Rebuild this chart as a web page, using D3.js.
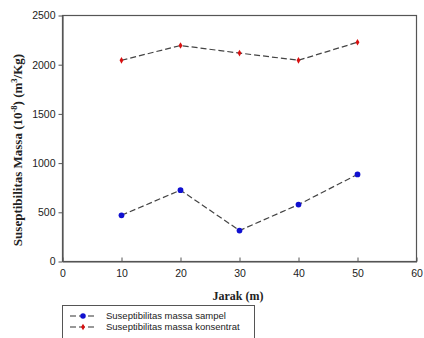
<!DOCTYPE html>
<html><head><meta charset="utf-8">
<script src="https://cdn.jsdelivr.net/npm/d3@7"></script>
<style>body{margin:0;background:#fff}svg{display:block}</style>
</head><body>
<svg id="c" width="424" height="338"></svg>
<script>
const jarak = [10, 20, 30, 40, 50];
const sampel = [470, 725, 315, 578, 885];
const konsentrat = [2045, 2195, 2118, 2045, 2228];
const xTicks = [0, 10, 20, 30, 40, 50, 60];
const yTicks = [0, 500, 1000, 1500, 2000, 2500];
const seriesNames = ["Suseptibilitas massa sampel", "Suseptibilitas massa konsentrat"];

const svg = d3.select("#c");
const L = 62.5, R = 416.5, T = 15.5, B = 261.5;
const x = d3.scaleLinear().domain([0, 60]).range([L, R]);
const y = d3.scaleLinear().domain([0, 2500]).range([B, T]);

svg.append("rect").attr("x", L).attr("y", T).attr("width", R - L).attr("height", B - T)
  .attr("fill", "none").attr("stroke", "#555").attr("stroke-width", 1.2);

const fmt = d3.format("d");
const xa = svg.append("g").attr("transform", `translate(0,${B})`)
  .call(d3.axisBottom(x).tickValues(xTicks).tickFormat(fmt).tickSizeInner(-4).tickSizeOuter(0).tickPadding(8));
const ya = svg.append("g").attr("transform", `translate(${L},0)`)
  .call(d3.axisLeft(y).tickValues(yTicks).tickFormat(fmt).tickSizeInner(4).tickSizeOuter(0).tickPadding(3));
[xa, ya].forEach(g => {
  g.select(".domain").attr("stroke", "#555").attr("stroke-width", 1.2);
  g.selectAll(".tick line").attr("stroke", "#555");
  g.selectAll("text").attr("font-family", "Arial, 'Liberation Sans', sans-serif").attr("font-size", 10.5).attr("fill", "#222");
});

svg.append("text").attr("x", 238).attr("y", 300).attr("text-anchor", "middle")
  .attr("font-family", "'Times New Roman', 'Liberation Serif', serif").attr("font-weight", "bold")
  .attr("font-size", 12).attr("fill", "#222").text("Jarak (m)");
const yt = svg.append("text").attr("transform", `translate(22,150) rotate(-90)`)
  .attr("text-anchor", "middle")
  .attr("font-family", "'Times New Roman', 'Liberation Serif', serif").attr("font-weight", "bold")
  .attr("font-size", 13).attr("fill", "#222");
yt.append("tspan").text("Suseptibilitas Massa (10");
yt.append("tspan").attr("dy", -5).attr("font-size", 8.5).text("-8");
yt.append("tspan").attr("dy", 5).text(") (m");
yt.append("tspan").attr("dy", -5).attr("font-size", 8.5).text("3");
yt.append("tspan").attr("dy", 5).text("/Kg)");

const line = d3.line().x((d, i) => x(jarak[i])).y(d => y(d));
const colors = ["#1010d0", "#d81010"];
[sampel, konsentrat].forEach((vals, si) => {
  svg.append("path").datum(vals).attr("d", line).attr("fill", "none")
    .attr("stroke", "#444").attr("stroke-width", 1.2).attr("stroke-dasharray", "6,3");
  const sym = si === 0 ? d3.symbolCircle : d3.symbolDiamond;
  const sz = si === 0 ? 26 : 13;
  svg.selectAll(null).data(vals).enter().append("path")
    .attr("d", d3.symbol().type(sym).size(sz))
    .attr("transform", (d, i) => `translate(${x(jarak[i])},${y(d)})`)
    .attr("fill", colors[si]);
});

const lg = svg.append("g");
lg.append("rect").attr("x", 62.5).attr("y", 305.5).attr("width", 192).attr("height", 40)
  .attr("fill", "#fff").attr("stroke", "#555").attr("stroke-width", 1);
seriesNames.forEach((n, i) => {
  const yy = 316 + i * 11;
  lg.append("line").attr("x1", 70).attr("x2", 96).attr("y1", yy).attr("y2", yy)
    .attr("stroke", "#333").attr("stroke-width", 1.1).attr("stroke-dasharray", "6,3");
  lg.append("path").attr("d", d3.symbol().type(i === 0 ? d3.symbolCircle : d3.symbolDiamond).size(i === 0 ? 24 : 13))
    .attr("transform", `translate(83,${yy})`).attr("fill", colors[i]);
  lg.append("text").attr("x", 106).attr("y", yy + 3.2)
    .attr("font-family", "Arial, 'Liberation Sans', sans-serif").attr("font-size", 9.5).attr("fill", "#222").text(n);
});
</script>
</body></html>
